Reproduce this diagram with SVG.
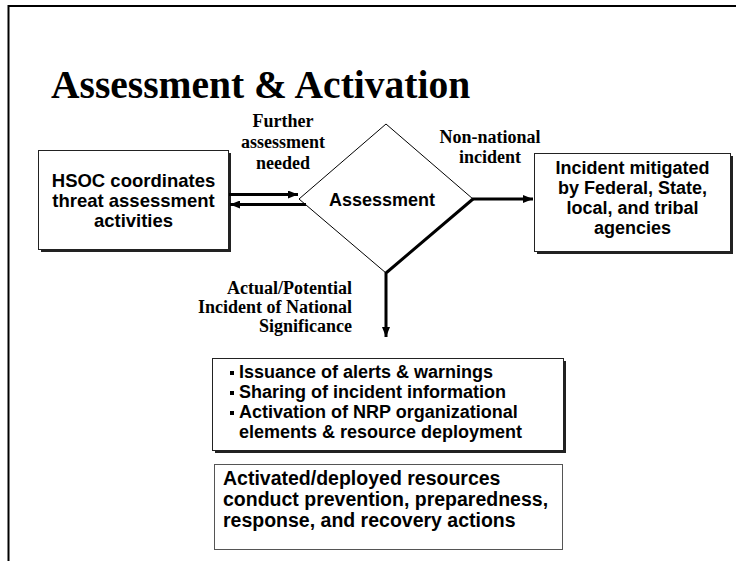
<svg xmlns="http://www.w3.org/2000/svg" width="736" height="561" viewBox="0 0 736 561">
<defs>
<marker id="ah" viewBox="0 0 10 8" refX="10" refY="4" markerWidth="10" markerHeight="8" markerUnits="userSpaceOnUse" orient="auto">
<path d="M0,0 L10,4 L0,8 Z" fill="#000"/>
</marker>
</defs>
<style>
.box{fill:#fff;stroke:#222;stroke-width:1}
.shadow{fill:#222}
.bt{font-family:"Liberation Sans",Arial,sans-serif;font-weight:bold;font-size:18px;fill:#000}
.bt2{font-family:"Liberation Sans",Arial,sans-serif;font-weight:bold;font-size:19.5px;fill:#000}
.bt3{font-family:"Liberation Sans",Arial,sans-serif;font-weight:bold;font-size:18.5px;fill:#000}
.lb{font-family:"Liberation Serif","Times New Roman",serif;font-weight:bold;font-size:18px;fill:#000}
.c{fill:none;stroke:#000;stroke-width:3}
</style>
<rect width="736" height="561" fill="#fff"/>
<path d="M8.5,561 V6 H736" fill="none" stroke="#000" stroke-width="2"/>
<text x="51" y="98" font-family="'Liberation Serif','Times New Roman',serif" font-weight="bold" font-size="39.5" fill="#000">Assessment &amp; Activation</text>

<g id="hsoc">
<rect class="shadow" x="41" y="153" width="190" height="99"/>
<rect class="box" x="38.5" y="150.5" width="190" height="99"/>
<text class="bt3" text-anchor="middle" x="133.5" y="187">HSOC coordinates</text>
<text class="bt3" text-anchor="middle" x="133.5" y="207">threat assessment</text>
<text class="bt3" text-anchor="middle" x="133.5" y="227">activities</text>
</g>

<g id="assessment">
<polygon points="386,124 473,199 386,273 299,199" fill="#fff" stroke="#000" stroke-width="1"/>
<text class="bt" text-anchor="middle" x="382" y="206">Assessment</text>
</g>

<g id="mitigated">
<rect class="shadow" x="537" y="156" width="196" height="98"/>
<rect class="box" x="534.5" y="153.5" width="196" height="98"/>
<text class="bt" text-anchor="middle" x="632.5" y="174">Incident mitigated</text>
<text class="bt" text-anchor="middle" x="632.5" y="194">by Federal, State,</text>
<text class="bt" text-anchor="middle" x="632.5" y="214">local, and tribal</text>
<text class="bt" text-anchor="middle" x="632.5" y="234">agencies</text>
</g>

<g id="actions">
<rect class="shadow" x="215" y="361" width="351" height="92"/>
<rect class="box" x="212.5" y="358.5" width="351" height="92"/>
<rect x="230" y="371" width="4" height="4" fill="#000"/>
<rect x="230" y="391" width="4" height="4" fill="#000"/>
<rect x="230" y="411" width="4" height="4" fill="#000"/>
<text class="bt" x="239" y="378">Issuance of alerts &amp; warnings</text>
<text class="bt" x="239" y="398">Sharing of incident information</text>
<text class="bt" x="239" y="418">Activation of NRP organizational</text>
<text class="bt" x="239" y="438">elements &amp; resource deployment</text>
</g>

<g id="resources">
<rect x="214.5" y="464.5" width="348" height="85" fill="#fff" stroke="#555" stroke-width="1"/>
<text class="bt2" x="223" y="485">Activated/deployed resources</text>
<text class="bt2" x="223" y="506">conduct prevention, preparedness,</text>
<text class="bt2" x="223" y="527">response, and recovery actions</text>
</g>

<g id="connectors">
<line class="c" x1="229" y1="194.5" x2="298" y2="194.5" marker-end="url(#ah)"/>
<line class="c" x1="306" y1="204.5" x2="230" y2="204.5" marker-end="url(#ah)"/>
<line class="c" x1="472" y1="199" x2="533" y2="199" marker-end="url(#ah)"/>
<polyline class="c" points="473,199 386,273 386,337" marker-end="url(#ah)"/>
<text class="lb" text-anchor="middle" x="283" y="127">Further</text>
<text class="lb" text-anchor="middle" x="283" y="148">assessment</text>
<text class="lb" text-anchor="middle" x="283" y="169">needed</text>
<text class="lb" text-anchor="middle" x="490" y="143">Non-national</text>
<text class="lb" text-anchor="middle" x="490" y="163">incident</text>
<text class="lb" text-anchor="end" x="352" y="294">Actual/Potential</text>
<text class="lb" text-anchor="end" x="352" y="313">Incident of National</text>
<text class="lb" text-anchor="end" x="352" y="332">Significance</text>
</g>
</svg>
